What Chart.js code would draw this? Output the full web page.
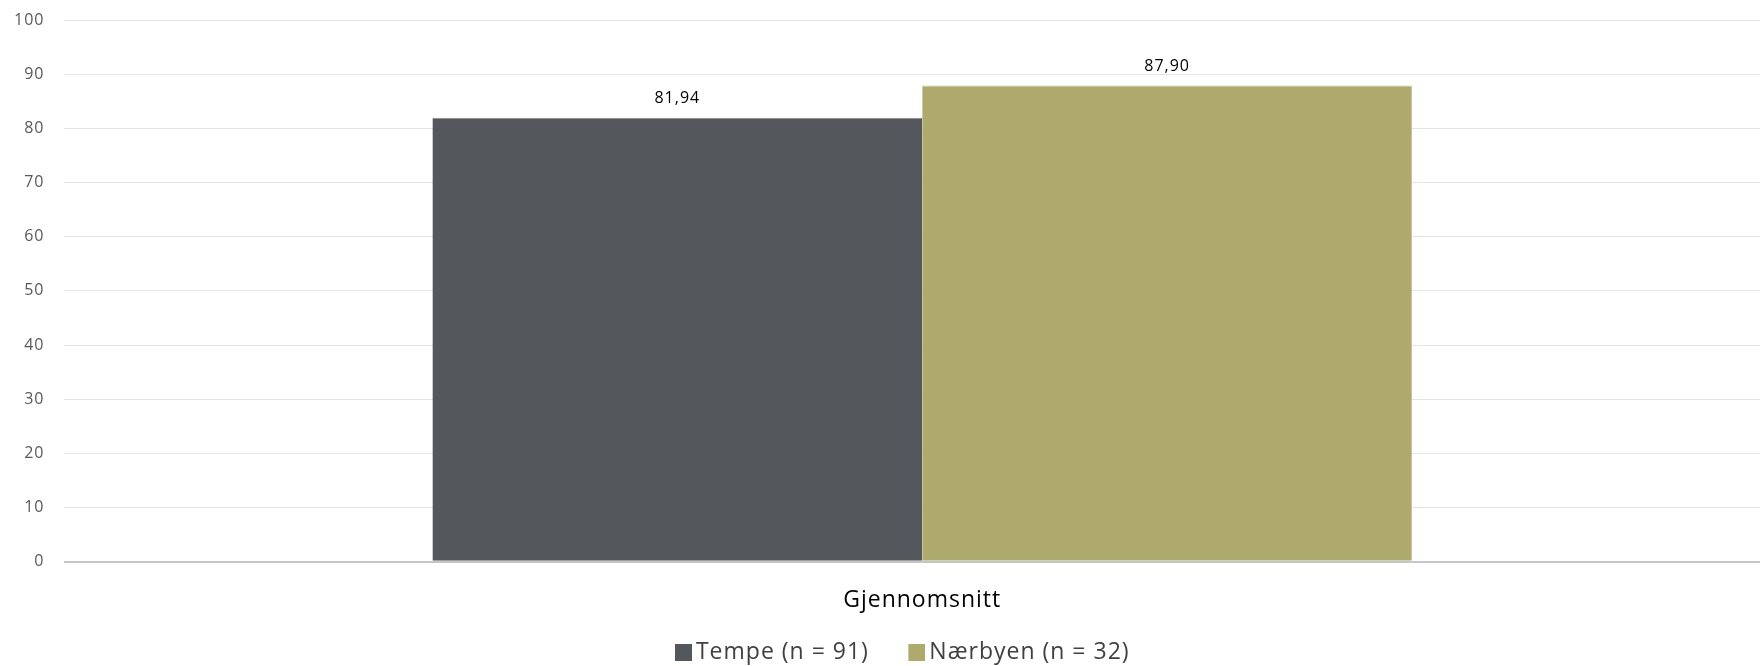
<!DOCTYPE html>
<html>
<head>
<meta charset="utf-8">
<script src="https://cdn.jsdelivr.net/npm/chart.js@4/dist/chart.umd.min.js"></script>
<style>
  html, body { margin: 0; padding: 0; background: #fff; overflow: hidden; }
  #wrap { width: 1780px; height: 666px; position: relative; }
</style>
</head>
<body>
<div id="wrap"><canvas id="c"></canvas></div>
<script>
// Average score per group
const categories = ['Gjennomsnitt'];
const seriesNames = ['Tempe (n = 91)', 'Nærbyen (n = 32)'];
const tempeValues = [81.94];
const naerbyenValues = [87.90];
const yTicks = [0, 10, 20, 30, 40, 50, 60, 70, 80, 90, 100];
const seriesColors = ['#54575b', '#aeaa6e'];

const FONT = "'Open Sans', 'Liberation Sans', sans-serif";

// Legend marker: a square sitting at the right end of a wider slot,
// so it stays close to its label while items keep a wide gap.
const MARK = 17, SLOT = 40, MARK_GAP = 4, HALF_FONT = 11.5;
function legendMarker(color) {
  const c = document.createElement('canvas');
  c.width = SLOT + 2 * (HALF_FONT - MARK_GAP);
  c.height = MARK;
  const g = c.getContext('2d');
  g.fillStyle = color;
  g.fillRect(c.width - MARK, 0, MARK, MARK);
  return c;
}
const markers = seriesColors.map(legendMarker);

// Slightly spaced lettering for all chart text
const spacing = {
  id: 'spacing',
  beforeUpdate(chart) { chart.ctx.letterSpacing = '1px'; },
  beforeLayout(chart) { chart.ctx.letterSpacing = '1px'; },
  beforeDraw(chart) { chart.ctx.letterSpacing = '1px'; }
};

// Writes each bar's value above it, with a decimal comma
const valueLabels = {
  id: 'valueLabels',
  afterDatasetsDraw(chart) {
    const ctx = chart.ctx;
    ctx.save();
    ctx.font = '16px ' + FONT;
    ctx.fillStyle = '#000';
    ctx.textAlign = 'center';
    ctx.textBaseline = 'middle';
    chart.data.datasets.forEach((ds, i) => {
      chart.getDatasetMeta(i).data.forEach((bar, j) => {
        const txt = ds.data[j].toFixed(2).replace('.', ',');
        ctx.fillText(txt, bar.x, bar.y - 19);
      });
    });
    ctx.restore();
  }
};

new Chart(document.getElementById('c'), {
  type: 'bar',
  data: {
    labels: categories,
    datasets: [
      {
        label: seriesNames[0],
        data: tempeValues,
        backgroundColor: seriesColors[0],
        borderColor: '#8a8c8f',
        borderWidth: { top: 1, left: 0, right: 0, bottom: 0 },
        categoryPercentage: 0.571,
        barPercentage: 1.0
      },
      {
        label: seriesNames[1],
        data: naerbyenValues,
        backgroundColor: seriesColors[1],
        borderColor: '#c9c699',
        borderWidth: { top: 1, left: 0, right: 1, bottom: 0 },
        categoryPercentage: 0.571,
        barPercentage: 1.0
      }
    ]
  },
  options: {
    responsive: true,
    maintainAspectRatio: false,
    animation: false,
    layout: { padding: { left: -6, right: 0, top: 20, bottom: -8 } },
    scales: {
      x: {
        grid: { display: false },
        border: { display: false },
        ticks: { font: { family: FONT, size: 23, lineHeight: 1.4 }, color: '#000', padding: 15 }
      },
      y: {
        min: 0,
        max: 100,
        afterBuildTicks(axis) { axis.ticks = yTicks.map(v => ({ value: v })); },
        afterFit(axis) { axis.paddingTop = 0; axis.paddingBottom = 0; },
        grid: {
          drawTicks: false,
          color: ctx => ctx.tick && ctx.tick.value === 0 ? '#c6c6c6' : '#e4e4e4',
          lineWidth: ctx => ctx.tick && ctx.tick.value === 0 ? 2 : 1
        },
        border: { display: false },
        ticks: { font: { family: FONT, size: 16 }, color: '#595959', padding: 20 }
      }
    },
    plugins: {
      legend: {
        position: 'bottom',
        labels: {
          font: { family: FONT, size: 23 },
          color: '#404040',
          usePointStyle: true,
          pointStyleWidth: SLOT,
          boxHeight: MARK,
          padding: 9,
          generateLabels(chart) {
            const items = Chart.defaults.plugins.legend.labels.generateLabels(chart);
            items.forEach((it, i) => { it.pointStyle = markers[i]; });
            return items;
          }
        }
      },
      tooltip: { enabled: false }
    }
  },
  plugins: [spacing, valueLabels]
});
</script>
</body>
</html>
